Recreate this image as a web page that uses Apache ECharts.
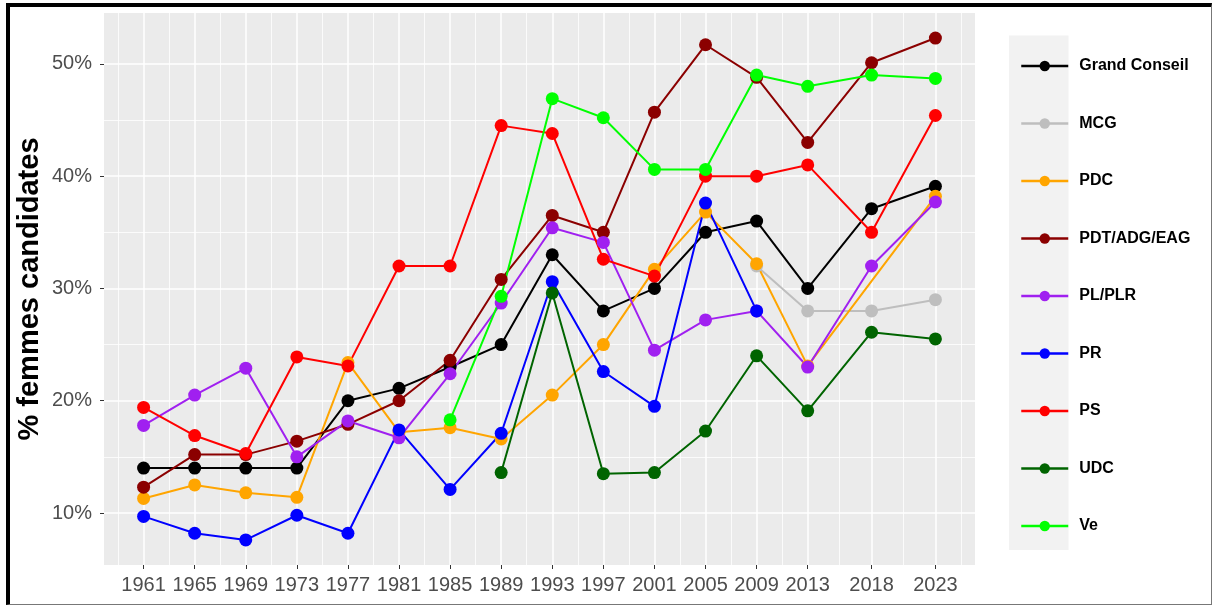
<!DOCTYPE html>
<html>
<head>
<meta charset="utf-8">
<script src="https://cdn.jsdelivr.net/npm/echarts@6/dist/echarts.min.js"></script>
<style>
  html, body { margin: 0; padding: 0; background: #fff; }
  #chart { width: 1213px; height: 605px; }
  #frame {
    position: absolute; left: 6px; top: 3px; width: 1201px; height: 597px;
    border-left: 4px solid #000; border-top: 4px solid #000;
    border-right: 1px solid #777; border-bottom: 1px solid #777;
    pointer-events: none;
  }
</style>
</head>
<body>
<div id="chart"></div>
<div id="frame"></div>
<script>
  // election years
  var years = [1961, 1965, 1969, 1973, 1977, 1981, 1985, 1989, 1993, 1997, 2001, 2005, 2009, 2013, 2018, 2023]

  // % of women among candidates, per list (null = no list that year)
  var grandConseil = [14.0, 14.0, 14.0, 14.0, 20.0, 21.1, 23.0, 25.0, 33.0, 28.0, 30.0, 35.0, 36.0, 30.0, 37.1, 39.1]
  var mcg = [null, null, null, null, null, null, null, null, null, null, null, null, 32.0, 28.0, 28.0, 29.0]
  var pdc = [11.3, 12.5, 11.8, 11.4, 23.4, 17.2, 17.6, 16.6, 20.5, 25.0, 31.7, 36.8, 32.2, 23.1, null, 38.2]
  var pdt = [12.3, 15.2, 15.2, 16.4, 17.9, 20.0, 23.6, 30.8, 36.5, 35.0, 45.7, 51.7, 48.8, 43.0, 50.1, 52.3]
  var plr = [17.8, 20.5, 22.9, 15.0, 18.2, 16.7, 22.4, 28.7, 35.4, 34.1, 24.5, 27.2, 28.0, 23.0, 32.0, 37.7]
  var pr = [9.7, 8.2, 7.6, 9.8, 8.2, 17.4, 12.1, 17.1, 30.6, 22.6, 19.5, 37.6, 28.0, null, null, null]
  var ps = [19.4, 16.9, 15.3, 23.9, 23.1, 32.0, 32.0, 44.5, 43.8, 32.6, 31.1, 40.0, 40.0, 41.0, 35.0, 45.4]
  var udc = [null, null, null, null, null, null, null, 13.6, 29.6, 13.5, 13.6, 17.3, 24.0, 19.1, 26.1, 25.5]
  var ve = [null, null, null, null, null, null, 18.3, 29.3, 46.9, 45.2, 40.6, 40.6, 49.0, 48.0, 49.0, 48.7]

  // axis breaks
  var yTicks = [10, 20, 30, 40, 50]
  var yMinor = [15, 25, 35, 45]
  var xMinor = [1959, 1963, 1967, 1971, 1975, 1979, 1983, 1987, 1991, 1995, 1999, 2003, 2007, 2011, 2015.5, 2020.5, 2025]

  var lists = [
    { name: 'Grand Conseil', values: grandConseil, color: '#000000' },
    { name: 'MCG', values: mcg, color: '#BEBEBE' },
    { name: 'PDC', values: pdc, color: '#FFA500' },
    { name: 'PDT/ADG/EAG', values: pdt, color: '#8B0000' },
    { name: 'PL/PLR', values: plr, color: '#A020F0' },
    { name: 'PR', values: pr, color: '#0000FF' },
    { name: 'PS', values: ps, color: '#FF0000' },
    { name: 'UDC', values: udc, color: '#006400' },
    { name: 'Ve', values: ve, color: '#00FF00' }
  ]

  var font = 'Liberation Sans, Arial, sans-serif'
  var chart = echarts.init(document.getElementById('chart'))

  var series = lists.map(function(l) {
    var pts = []
    years.forEach(function(y, i) {
      if (l.values[i] != null) pts.push([y, l.values[i]])
    })
    return {
      name: l.name,
      type: 'line',
      data: pts,
      symbol: 'circle',
      symbolSize: 13,
      color: l.color,
      lineStyle: { width: 2, color: l.color },
      itemStyle: { color: l.color },
      emphasis: { disabled: true },
      animation: false
    }
  })

  chart.setOption({
    animation: false,
    grid: { left: 104, right: 238, top: 13, bottom: 40, show: true, backgroundColor: '#EBEBEB', borderWidth: 0 },
    graphic: [
      { type: 'rect', left: 1009, top: 35.5, shape: { width: 59.5, height: 514.5 }, style: { fill: '#F2F2F2' }, z: -1 }
    ],
    legend: {
      orient: 'vertical',
      left: 1015,
      top: 53,
      itemWidth: 47,
      itemHeight: 13,
      itemGap: 41.5,
      selectedMode: false,
      lineStyle: { width: 2.5 },
      data: lists.map(function(l) { return l.name }),
      textStyle: { fontFamily: font, fontSize: 16, fontWeight: 'bold', color: '#000', padding: [0, 0, 0, 6] }
    },
    xAxis: [
      {
        type: 'value',
        min: 1957.9,
        max: 2026.1,
        axisLine: { show: false },
        axisTick: { show: true, length: 4, customValues: years, lineStyle: { color: '#333', width: 1 } },
        axisLabel: {
          customValues: years, fontFamily: font, fontSize: 20, color: '#4D4D4D', margin: 10,
          formatter: function(v) { return String(v) }
        },
        splitLine: { show: true, lineStyle: { color: '#FFFFFF', width: 1.5 } },
        z: 3
      },
      {
        type: 'value',
        min: 1957.9,
        max: 2026.1,
        axisLine: { show: false },
        axisTick: { show: false, customValues: xMinor },
        axisLabel: { show: false },
        splitLine: { show: true, lineStyle: { color: '#FFFFFF', width: 0.8 } }
      }
    ],
    yAxis: [
      {
        type: 'value',
        min: 5.37,
        max: 54.53,
        name: '% femmes candidates',
        nameLocation: 'middle',
        nameGap: 60,
        nameMoveOverlap: false,
        nameTextStyle: { fontFamily: font, fontSize: 29, fontWeight: 'bold', color: '#000' },
        axisLine: { show: false },
        axisTick: { show: true, length: 4, customValues: yTicks, lineStyle: { color: '#333', width: 1 } },
        axisLabel: { customValues: yTicks, fontFamily: font, fontSize: 20, color: '#4D4D4D', margin: 12, formatter: '{value}%' },
        splitLine: { show: true, lineStyle: { color: '#FFFFFF', width: 1.5 } },
        z: 3
      },
      {
        type: 'value',
        min: 5.37,
        max: 54.53,
        axisLine: { show: false },
        axisTick: { show: false, customValues: yMinor },
        axisLabel: { show: false },
        splitLine: { show: true, lineStyle: { color: '#FFFFFF', width: 0.8 } }
      }
    ],
    series: series
  })
</script>
</body>
</html>
